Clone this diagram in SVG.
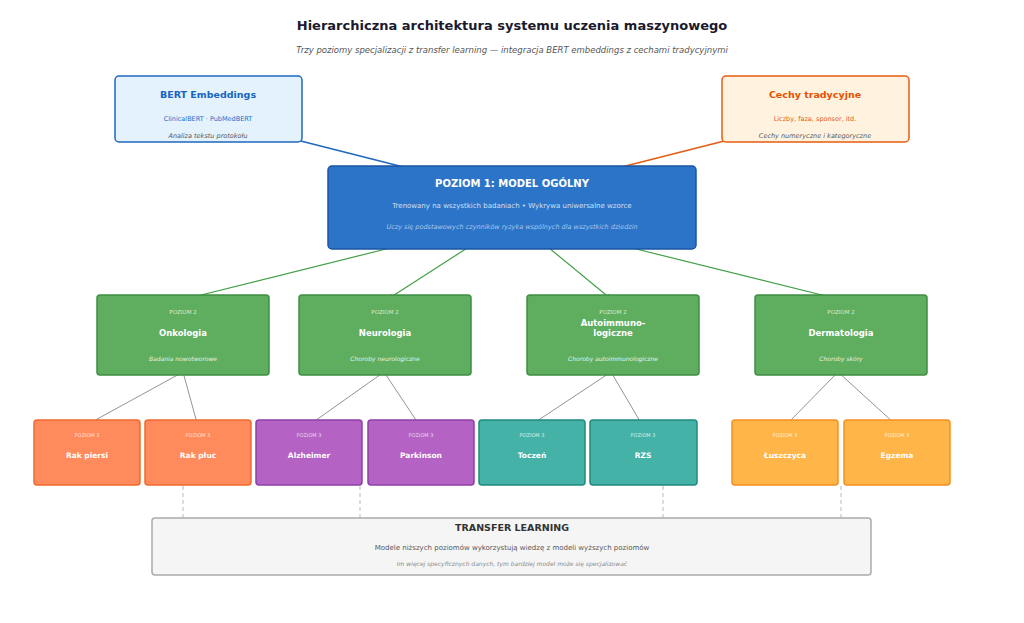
<svg xmlns="http://www.w3.org/2000/svg" width="1024" height="623" viewBox="0 0 1024 623">
<style>
text{font-family:"DejaVu Sans","Liberation Sans",sans-serif;text-anchor:middle}
.w{fill:#fff}.b{font-weight:bold}.i{font-style:italic}
.g2 rect{fill:#5fae60;stroke:#3f8f42;stroke-width:1.5}
.l3 rect{stroke-width:1.5}
</style>
<defs>
<marker id="ab" viewBox="0 0 10 10" refX="9" refY="5" markerWidth="5" markerHeight="5" orient="auto"><path d="M0,0L10,5L0,10z" fill="#1f68c0"/></marker>
<marker id="ao" viewBox="0 0 10 10" refX="9" refY="5" markerWidth="5" markerHeight="5" orient="auto"><path d="M0,0L10,5L0,10z" fill="#e65c12"/></marker>
<marker id="ag" viewBox="0 0 10 10" refX="9" refY="5" markerWidth="5" markerHeight="5" orient="auto"><path d="M0,0L10,5L0,10z" fill="#43a047"/></marker>
<marker id="ay" viewBox="0 0 10 10" refX="9" refY="5" markerWidth="4" markerHeight="4" orient="auto"><path d="M0,0L10,5L0,10z" fill="#777"/></marker>
</defs>
<rect width="1024" height="623" fill="#fff"/>
<text x="512" y="30" font-size="13" class="b" fill="#1a1a2e">Hierarchiczna architektura systemu uczenia maszynowego</text>
<text x="512" y="53" font-size="8.5" class="i" fill="#555">Trzy poziomy specjalizacji z transfer learning — integracja BERT embeddings z cechami tradycyjnymi</text>
<g id="connectors" fill="none">
<line x1="285" y1="137" x2="435" y2="175" stroke="#1f68c0" stroke-width="1.5" marker-end="url(#ab)"/>
<line x1="740" y1="137" x2="590" y2="175" stroke="#e65c12" stroke-width="1.5" marker-end="url(#ao)"/>
<g stroke="#43a047" stroke-width="1.2" marker-end="url(#ag)">
<line x1="410" y1="243" x2="185" y2="299"/><line x1="475" y1="243" x2="388" y2="299"/>
<line x1="543" y1="243" x2="611" y2="299"/><line x1="612" y1="243" x2="838" y2="299"/>
</g>
<g stroke="#777" stroke-width="0.8" marker-end="url(#ay)">
<line x1="183" y1="372" x2="90" y2="423"/><line x1="183" y1="372" x2="197" y2="423"/>
<line x1="384" y1="372" x2="312" y2="423"/><line x1="384" y1="372" x2="418" y2="423"/>
<line x1="611" y1="372" x2="534" y2="423"/><line x1="611" y1="372" x2="641" y2="423"/>
<line x1="838" y1="372" x2="788" y2="423"/><line x1="838" y1="372" x2="894" y2="423"/>
</g>
<g stroke="#bbb" stroke-width="1" stroke-dasharray="4,3">
<line x1="183" y1="486" x2="183" y2="518"/><line x1="360" y1="486" x2="360" y2="518"/>
<line x1="663" y1="486" x2="663" y2="518"/><line x1="841" y1="486" x2="841" y2="518"/>
</g>
</g>
<g id="bert"><rect x="115" y="76" width="187" height="66" rx="4" fill="#e3f2fd" stroke="#1f68c0" stroke-width="1.5"/>
<text x="208" y="98" font-size="9.5" class="b" fill="#1565c0">BERT Embeddings</text>
<text x="208" y="121" font-size="6.5" fill="#1e6ec8">ClinicalBERT · PubMedBERT</text>
<text x="208" y="138" font-size="6.5" class="i" fill="#555">Analiza tekstu protokołu</text></g>
<g id="cechy"><rect x="722" y="76" width="187" height="66" rx="4" fill="#fff3e0" stroke="#e65c12" stroke-width="1.5"/>
<text x="815" y="98" font-size="9.5" class="b" fill="#e65100">Cechy tradycyjne</text>
<text x="815" y="121" font-size="6.5" fill="#e65c12">Liczby, faza, sponsor, itd.</text>
<text x="815" y="138" font-size="6.5" class="i" fill="#555">Cechy numeryczne i kategoryczne</text></g>
<g id="level1"><rect x="328" y="166" width="368" height="83" rx="4" fill="#2c74c7" stroke="#1a55a3" stroke-width="1.5"/>
<text x="512" y="187" font-size="10" class="b w">POZIOM 1: MODEL OGÓLNY</text>
<text x="512" y="208" font-size="7" fill="#cfe0f5">Trenowany na wszystkich badaniach  •  Wykrywa uniwersalne wzorce</text>
<text x="512" y="229" font-size="6.5" class="i" fill="#a9c8ee">Uczy się podstawowych czynników ryzyka wspólnych dla wszystkich dziedzin</text></g>
<g class="g2">
<g id="onk"><rect x="97" y="295" width="172" height="80" rx="3"/><text x="183" y="314" font-size="5.5" fill="#d8ecd8">POZIOM 2</text><text x="183" y="336" font-size="8.5" class="b w">Onkologia</text><text x="183" y="361" font-size="6" class="i" fill="#e6f2e6">Badania nowotworowe</text></g>
<g id="neu"><rect x="299" y="295" width="172" height="80" rx="3"/><text x="385" y="314" font-size="5.5" fill="#d8ecd8">POZIOM 2</text><text x="385" y="336" font-size="8.5" class="b w">Neurologia</text><text x="385" y="361" font-size="6" class="i" fill="#e6f2e6">Choroby neurologiczne</text></g>
<g id="aut"><rect x="527" y="295" width="172" height="80" rx="3"/><text x="613" y="314" font-size="5.5" fill="#d8ecd8">POZIOM 2</text><text x="613" y="326" font-size="8.5" class="b w">Autoimmuno-</text><text x="613" y="336" font-size="8.5" class="b w">logiczne</text><text x="613" y="361" font-size="6" class="i" fill="#e6f2e6">Choroby autoimmunologiczne</text></g>
<g id="der"><rect x="755" y="295" width="172" height="80" rx="3"/><text x="841" y="314" font-size="5.5" fill="#d8ecd8">POZIOM 2</text><text x="841" y="336" font-size="8.5" class="b w">Dermatologia</text><text x="841" y="361" font-size="6" class="i" fill="#e6f2e6">Choroby skóry</text></g>
</g>
<g class="l3" font-size="5">
<g id="rp"><rect x="34" y="420" width="106" height="65" rx="3" fill="#ff8a5c" stroke="#f06a30"/><text x="87" y="437" font-size="5" fill="#ffe0d0">POZIOM 3</text><text x="87" y="458" font-size="7.5" class="b w">Rak piersi</text></g>
<g id="rpl"><rect x="145" y="420" width="106" height="65" rx="3" fill="#ff8a5c" stroke="#f06a30"/><text x="198" y="437" font-size="5" fill="#ffe0d0">POZIOM 3</text><text x="198" y="458" font-size="7.5" class="b w">Rak płuc</text></g>
<g id="alz"><rect x="256" y="420" width="106" height="65" rx="3" fill="#b462c4" stroke="#8e3fa6"/><text x="309" y="437" font-size="5" fill="#ecd8f0">POZIOM 3</text><text x="309" y="458" font-size="7.5" class="b w">Alzheimer</text></g>
<g id="par"><rect x="368" y="420" width="106" height="65" rx="3" fill="#b462c4" stroke="#8e3fa6"/><text x="421" y="437" font-size="5" fill="#ecd8f0">POZIOM 3</text><text x="421" y="458" font-size="7.5" class="b w">Parkinson</text></g>
<g id="toc"><rect x="479" y="420" width="106" height="65" rx="3" fill="#45b2a8" stroke="#1f8a7e"/><text x="532" y="437" font-size="5" fill="#d5efec">POZIOM 3</text><text x="532" y="458" font-size="7.5" class="b w">Toczeń</text></g>
<g id="rzs"><rect x="590" y="420" width="107" height="65" rx="3" fill="#45b2a8" stroke="#1f8a7e"/><text x="643" y="437" font-size="5" fill="#d5efec">POZIOM 3</text><text x="643" y="458" font-size="7.5" class="b w">RZS</text></g>
<g id="lus"><rect x="732" y="420" width="106" height="65" rx="3" fill="#ffb547" stroke="#f59020"/><text x="785" y="437" font-size="5" fill="#fff0d5">POZIOM 3</text><text x="785" y="458" font-size="7.5" class="b w">Łuszczyca</text></g>
<g id="egz"><rect x="844" y="420" width="106" height="65" rx="3" fill="#ffb547" stroke="#f59020"/><text x="897" y="437" font-size="5" fill="#fff0d5">POZIOM 3</text><text x="897" y="458" font-size="7.5" class="b w">Egzema</text></g>
</g>
<g id="transfer"><rect x="152" y="518" width="719" height="57" rx="3" fill="#f5f5f5" stroke="#aaa" stroke-width="1.5"/>
<text x="512" y="531" font-size="9.5" class="b" fill="#333">TRANSFER LEARNING</text>
<text x="512" y="550" font-size="7" fill="#555">Modele niższych poziomów wykorzystują wiedzę z modeli wyższych poziomów</text>
<text x="512" y="566" font-size="6" class="i" fill="#888">Im więcej specyficznych danych, tym bardziej model może się specjalizować</text></g>
</svg>
